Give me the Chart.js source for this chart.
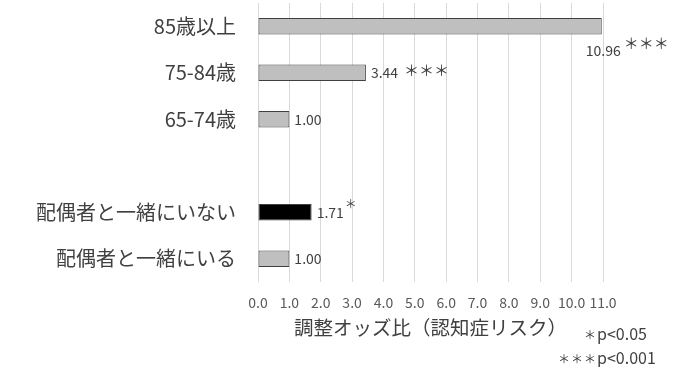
<!DOCTYPE html>
<html>
<head>
<meta charset="utf-8">
<script src="https://cdn.jsdelivr.net/npm/chart.js@4.4.0/dist/chart.umd.min.js"></script>
<style>
  html, body { margin: 0; padding: 0; background: #fff; }
  #wrap { position: relative; width: 700px; height: 367px; }
  .note { position: absolute; font-family: "Noto Sans CJK JP", "Noto Sans", sans-serif; font-size: 16px; line-height: 20px; color: #404040; white-space: nowrap; }
  .note small { font-size: 12px; letter-spacing: 1px; }
</style>
</head>
<body>
<div id="wrap">
  <canvas id="chart" width="700" height="367"></canvas>
  <div class="note" style="left:584px; top:323px;"><small>＊</small>p&lt;0.05</div>
  <div class="note" style="left:558px; top:347px;"><small>＊＊＊</small>p&lt;0.001</div>
</div>
<script>
// データ
var categories = ["85歳以上", "75-84歳", "65-74歳", "", "配偶者と一緒にいない", "配偶者と一緒にいる"];
var oddsRatios = [10.96, 3.44, 1.00, null, 1.71, 1.00];
var marks = ["＊＊＊", "＊＊＊", "", "", "＊", ""];
var barColors = ["#bfbfbf", "#bfbfbf", "#bfbfbf", "#bfbfbf", "#000000", "#bfbfbf"];
var xTicks = [0, 1, 2, 3, 4, 5, 6, 7, 8, 9, 10, 11];

var FONT = '"Noto Sans CJK JP", "Noto Sans", sans-serif';

// 数値ラベル
var valueLabels = {
  id: 'valueLabels',
  afterDatasetsDraw: function (chart) {
    var ctx = chart.ctx;
    var meta = chart.getDatasetMeta(0);
    ctx.save();
    ctx.fillStyle = '#404040';
    ctx.textBaseline = 'middle';
    meta.data.forEach(function (bar, i) {
      var v = oddsRatios[i];
      if (v === null) return;
      var txt = v.toFixed(2);
      ctx.font = '14px ' + FONT;
      ctx.textAlign = 'left';
      if (v > 10) {
        // 長いバーはラベルを下に
        var x0 = bar.x - 16;
        var y0 = bar.y + 24;
        ctx.fillText(txt, x0, y0);
        var w = ctx.measureText(txt).width;
        ctx.font = '15px ' + FONT;
        ctx.fillText(marks[i], x0 + w + 3, y0 - 7);
      } else {
        var x = bar.x + 5;
        ctx.fillText(txt, x, bar.y);
        var w2 = ctx.measureText(txt).width;
        if (marks[i] === "＊") {
          ctx.font = '12px ' + FONT;
          ctx.fillText(marks[i], x + w2 + 1, bar.y - 8);
        } else if (marks[i]) {
          ctx.font = '15px ' + FONT;
          ctx.fillText(marks[i], x + w2 + 6, bar.y - 2);
        }
      }
    });
    ctx.restore();
  }
};

var chart = new Chart(document.getElementById('chart').getContext('2d'), {
  type: 'bar',
  data: {
    labels: categories,
    datasets: [{
      data: oddsRatios,
      backgroundColor: barColors,
      borderColor: '#404040',
      borderWidth: 1,
      borderSkipped: false,
      categoryPercentage: 1.0,
      barPercentage: 0.36
    }]
  },
  options: {
    indexAxis: 'y',
    responsive: false,
    animation: false,
    layout: { padding: { top: 3, right: 97, bottom: 0, left: 0 } },
    plugins: {
      legend: { display: false },
      tooltip: { enabled: false }
    },
    scales: {
      x: {
        min: 0,
        max: 11,
        afterBuildTicks: function (scale) {
          scale.ticks = xTicks.map(function (v) { return { value: v }; });
        },
        afterFit: function (scale) { scale.height = 85; },
        grid: { color: '#d9d9d9', drawTicks: false },
        border: { display: false },
        ticks: {
          padding: 12,
          color: '#595959',
          minRotation: 0,
          maxRotation: 0,
          autoSkip: false,
          font: { family: FONT, size: 14 },
          callback: function (v) { return Number(v).toFixed(1); }
        },
        title: {
          display: true,
          text: '調整オッズ比（認知症リスク）',
          color: '#404040',
          font: { family: FONT, size: 19.5 },
          padding: { top: 4, bottom: 28 }
        }
      },
      y: {
        afterFit: function (scale) {
          scale.width = 258;
          scale.paddingTop = 0;
          scale.paddingBottom = 0;
        },
        grid: { display: false, drawTicks: false },
        border: { display: false },
        ticks: {
          padding: 22,
          color: '#404040',
          font: { family: FONT, size: 20 }
        }
      }
    }
  },
  plugins: [valueLabels]
});
</script>
</body>
</html>
